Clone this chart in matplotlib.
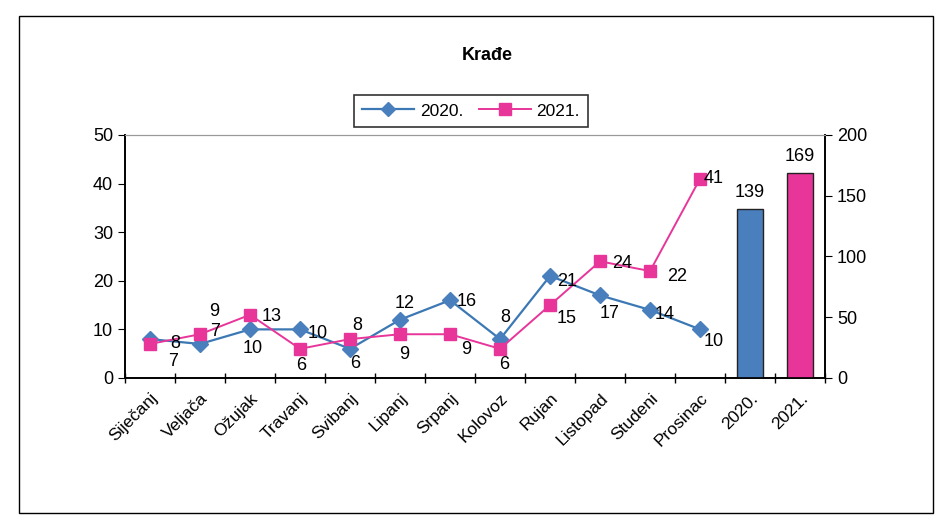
import numpy as np
import matplotlib.pyplot as plt
from matplotlib.patches import Rectangle
from matplotlib.lines import Line2D

plt.rcParams['font.family'] = ['Liberation Sans', 'DejaVu Sans']

months = ['Siječanj', 'Veljača', 'Ožujak', 'Travanj', 'Svibanj', 'Lipanj', 'Srpanj',
          'Kolovoz', 'Rujan', 'Listopad', 'Studeni', 'Prosinac']
years = ['2020.', '2021.']
krade_2020 = [8, 7, 10, 10, 6, 12, 16, 8, 21, 17, 14, 10]
krade_2021 = [7, 9, 13, 6, 8, 9, 9, 6, 15, 24, 22, 41]
totals = [sum(krade_2020), sum(krade_2021)]

# label offsets in pixels (dx, dy up), roughly where the labels sit in the scan
off_2020 = [(25, -4), (15, 12), (3, -19), (18, -4), (5, -15), (5, 16),
            (17, -1), (5, 22), (17, -6), (10, -18), (15, -5), (14, -12)]
off_2021 = [(23, -18), (14, 23), (22, -2), (1, -17), (7, 14), (4, -20),
            (16, -15), (4, -16), (17, -13), (22, -2), (27, -5), (14, 0)]

blue = '#4a7fbd'
blue_line = '#3c78b4'
pink = '#e8359a'

fig = plt.figure(figsize=(9.38, 5.26), dpi=100)
ax = fig.add_axes([0.1333, 0.2814, 0.7463, 0.4620])
ax2 = ax.twinx()

x = np.arange(len(months))
ax.plot(x, krade_2020, color=blue_line, lw=1.6, marker='D', ms=8,
        mfc=blue, mec=blue, zorder=3)
ax.plot(x, krade_2021, color=pink, lw=1.4, marker='s', ms=9,
        mfc=pink, mec=pink, zorder=3)

for xi, v, o in zip(x, krade_2020, off_2020):
    ax.annotate(str(v), (xi, v), xytext=o, textcoords='offset pixels',
                ha='center', va='center', fontsize=13)
for xi, v, o in zip(x, krade_2021, off_2021):
    ax.annotate(str(v), (xi, v), xytext=o, textcoords='offset pixels',
                ha='center', va='center', fontsize=13)

xb = np.arange(len(months), len(months) + len(years))
bars = ax2.bar(xb, totals, width=0.52, color=[blue, pink], edgecolor='#222222', lw=1)
for b, v in zip(bars, totals):
    ax2.annotate(str(v), (b.get_x() + b.get_width() / 2, v), xytext=(0, 8),
                 textcoords='offset pixels', ha='center', va='bottom', fontsize=13)

ax.set_xlim(-0.5, len(months) + len(years) - 0.5)
ax.set_ylim(0, 50)
ax2.set_ylim(0, 200)
ax.set_yticks(np.arange(0, 51, 10))
ax2.set_yticks(np.arange(0, 201, 50))

ax.set_xticks(np.arange(-0.5, len(months) + len(years)), minor=False)
ax.set_xticklabels([])
ax.set_xticks(np.arange(len(months) + len(years)), minor=True)
ax.set_xticklabels(months + years, minor=True, rotation=45, ha='right',
                   rotation_mode='anchor', fontsize=12.5)
ax.tick_params(axis='x', which='major', direction='inout', length=7, width=1)
ax.tick_params(axis='x', which='minor', length=0, pad=9)
ax.tick_params(axis='y', direction='out', length=5, labelsize=13)
ax2.tick_params(axis='y', direction='out', length=5, labelsize=13)

for a in (ax, ax2):
    a.spines['top'].set_color('#999999')
    a.spines['top'].set_linewidth(0.8)
    a.spines['left'].set_linewidth(1.2)
    a.spines['bottom'].set_linewidth(1.2)
    a.spines['right'].set_linewidth(1.2)

fig.text(0.519, 0.895, 'Krađe', ha='center', va='center', fontsize=13, fontweight='bold')

handles = [Line2D([], [], color=blue_line, lw=1.6, marker='D', ms=7, mfc=blue, mec=blue),
           Line2D([], [], color=pink, lw=1.4, marker='s', ms=8, mfc=pink, mec=pink)]
leg = fig.legend(handles, years, loc='center', bbox_to_anchor=(0.502, 0.789), ncol=2,
                 fontsize=12.5, frameon=True, fancybox=False, edgecolor='black',
                 handlelength=3.0, columnspacing=0.9, handletextpad=0.3, borderpad=0.5)
leg.get_frame().set_linewidth(1.2)

fig.patches.append(Rectangle((0.02, 0.025), 0.975, 0.945, transform=fig.transFigure,
                             fill=False, edgecolor='black', lw=1))

fig.savefig('out.png', dpi=100)
